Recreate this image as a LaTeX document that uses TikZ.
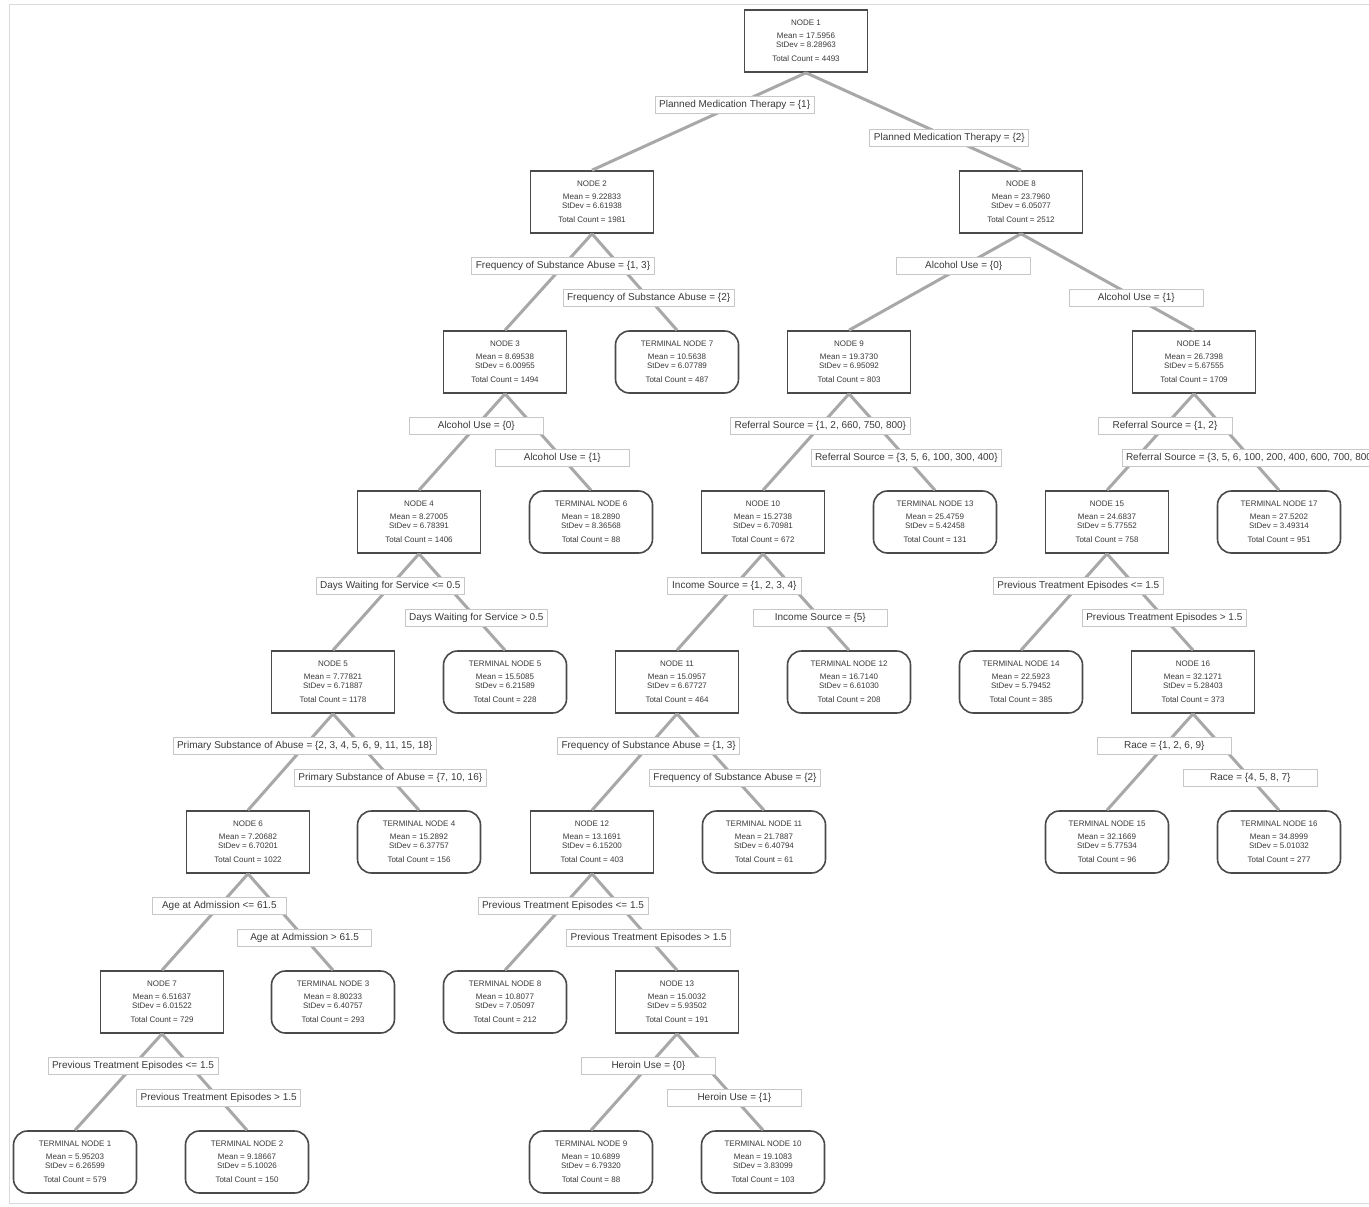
\documentclass[tikz,border=0pt]{standalone}
\usepackage{fontspec}
\setmainfont{Liberation Sans}
\definecolor{edgec}{HTML}{A8A8A8}
\definecolor{boxc}{HTML}{4A4A4A}
\definecolor{labc}{HTML}{C8C8C8}
\definecolor{txtc}{HTML}{3A3A3A}
\definecolor{framec}{HTML}{DADADA}
\newcommand\ndtxt[4]{#1\\[4pt]Mean = #2\\StDev = #3\\[5pt]Total Count = #4}
\begin{document}
\begin{tikzpicture}[x=1pt,y=-1pt,
  inode/.style={draw=boxc, line width=1.6pt, fill=white, minimum width=123pt, minimum height=62pt,
    align=center, inner sep=0pt, text=txtc, font=\fontsize{8}{9}\selectfont},
  tnode/.style={inode, rounded corners=14pt},
  lab/.style={draw=labc, line width=0.8pt, fill=white, minimum width=134pt, minimum height=17pt,
    inner xsep=4pt, inner ysep=2pt, text=txtc, font=\fontsize{10}{11}\selectfont},
  edge/.style={draw=edgec, line width=3pt}]
\path[use as bounding box, fill=white] (0,0) rectangle (1369,1207);
\draw[framec, line width=1pt] (9,5) rectangle (1380,1203);

% row 1
\node[inode] (n1) at (806,41) {\ndtxt{NODE 1}{17.5956}{8.28963}{4493}};
% row 2
\node[inode] (n2) at (592,202) {\ndtxt{NODE 2}{9.22833}{6.61938}{1981}};
\node[inode] (n8) at (1021,202) {\ndtxt{NODE 8}{23.7960}{6.05077}{2512}};
% row 3
\node[inode] (n3) at (505,362) {\ndtxt{NODE 3}{8.69538}{6.00955}{1494}};
\node[tnode] (t7) at (677,362) {\ndtxt{TERMINAL NODE 7}{10.5638}{6.07789}{487}};
\node[inode] (n9) at (849,362) {\ndtxt{NODE 9}{19.3730}{6.95092}{803}};
\node[inode] (n14) at (1194,362) {\ndtxt{NODE 14}{26.7398}{5.67555}{1709}};
% row 4
\node[inode] (n4) at (419,522) {\ndtxt{NODE 4}{8.27005}{6.78391}{1406}};
\node[tnode] (t6) at (591,522) {\ndtxt{TERMINAL NODE 6}{18.2890}{8.36568}{88}};
\node[inode] (n10) at (763,522) {\ndtxt{NODE 10}{15.2738}{6.70981}{672}};
\node[tnode] (t13) at (935,522) {\ndtxt{TERMINAL NODE 13}{25.4759}{5.42458}{131}};
\node[inode] (n15) at (1107,522) {\ndtxt{NODE 15}{24.6837}{5.77552}{758}};
\node[tnode] (t17) at (1279,522) {\ndtxt{TERMINAL NODE 17}{27.5202}{3.49314}{951}};
% row 5
\node[inode] (n5) at (333,682) {\ndtxt{NODE 5}{7.77821}{6.71887}{1178}};
\node[tnode] (t5) at (505,682) {\ndtxt{TERMINAL NODE 5}{15.5085}{6.21589}{228}};
\node[inode] (n11) at (677,682) {\ndtxt{NODE 11}{15.0957}{6.67727}{464}};
\node[tnode] (t12) at (849,682) {\ndtxt{TERMINAL NODE 12}{16.7140}{6.61030}{208}};
\node[tnode] (t14) at (1021,682) {\ndtxt{TERMINAL NODE 14}{22.5923}{5.79452}{385}};
\node[inode] (n16) at (1193,682) {\ndtxt{NODE 16}{32.1271}{5.28403}{373}};
% row 6
\node[inode] (n6) at (248,842) {\ndtxt{NODE 6}{7.20682}{6.70201}{1022}};
\node[tnode] (t4) at (419,842) {\ndtxt{TERMINAL NODE 4}{15.2892}{6.37757}{156}};
\node[inode] (n12) at (592,842) {\ndtxt{NODE 12}{13.1691}{6.15200}{403}};
\node[tnode] (t11) at (764,842) {\ndtxt{TERMINAL NODE 11}{21.7887}{6.40794}{61}};
\node[tnode] (t15) at (1107,842) {\ndtxt{TERMINAL NODE 15}{32.1669}{5.77534}{96}};
\node[tnode] (t16) at (1279,842) {\ndtxt{TERMINAL NODE 16}{34.8999}{5.01032}{277}};
% row 7
\node[inode] (n7) at (162,1002) {\ndtxt{NODE 7}{6.51637}{6.01522}{729}};
\node[tnode] (t3) at (333,1002) {\ndtxt{TERMINAL NODE 3}{8.80233}{6.40757}{293}};
\node[tnode] (t8) at (505,1002) {\ndtxt{TERMINAL NODE 8}{10.8077}{7.05097}{212}};
\node[inode] (n13) at (677,1002) {\ndtxt{NODE 13}{15.0032}{5.93502}{191}};
% row 8
\node[tnode] (t1) at (75,1162) {\ndtxt{TERMINAL NODE 1}{5.95203}{6.26599}{579}};
\node[tnode] (t2) at (247,1162) {\ndtxt{TERMINAL NODE 2}{9.18667}{5.10026}{150}};
\node[tnode] (t9) at (591,1162) {\ndtxt{TERMINAL NODE 9}{10.6899}{6.79320}{88}};
\node[tnode] (t10) at (763,1162) {\ndtxt{TERMINAL NODE 10}{19.1083}{3.83099}{103}};

% connectors
\foreach \a/\b in {n1/n2,n1/n8,n2/n3,n2/t7,n8/n9,n8/n14,n3/n4,n3/t6,n9/n10,n9/t13,
  n14/n15,n14/t17,n4/n5,n4/t5,n10/n11,n10/t12,n15/t14,n15/n16,n5/n6,n5/t4,n11/n12,n11/t11,
  n16/t15,n16/t16,n6/n7,n6/t3,n12/t8,n12/n13,n7/t1,n7/t2,n13/t9,n13/t10}
  \draw[edge] (\a.south) -- (\b.north);

% split labels
\path (n1.south) -- (n2.north) node[lab,pos=1/3] (l1a) {Planned Medication Therapy = \{1\}};
\path (n1.south) -- (n8.north) node[lab,pos=2/3] (l1b) {Planned Medication Therapy = \{2\}};
\path (n2.south) -- (n3.north) node[lab,pos=1/3] (l2a) {Frequency of Substance Abuse = \{1, 3\}};
\path (n2.south) -- (t7.north) node[lab,pos=2/3] (l2b) {Frequency of Substance Abuse = \{2\}};
\path (n8.south) -- (n9.north) node[lab,pos=1/3] (l8a) {Alcohol Use = \{0\}};
\path (n8.south) -- (n14.north) node[lab,pos=2/3] (l8b) {Alcohol Use = \{1\}};
\path (n3.south) -- (n4.north) node[lab,pos=1/3] (l3a) {Alcohol Use = \{0\}};
\path (n3.south) -- (t6.north) node[lab,pos=2/3] (l3b) {Alcohol Use = \{1\}};
\path (n9.south) -- (n10.north) node[lab,pos=1/3] (l9a) {Referral Source = \{1, 2, 660, 750, 800\}};
\path (n9.south) -- (t13.north) node[lab,pos=2/3] (l9b) {Referral Source = \{3, 5, 6, 100, 300, 400\}};
\path (n14.south) -- (n15.north) node[lab,pos=1/3] (l14a) {Referral Source = \{1, 2\}};
\path (n14.south) -- (t17.north) node[lab,pos=2/3] (l14b) {Referral Source = \{3, 5, 6, 100, 200, 400, 600, 700, 800\}};
\path (n4.south) -- (n5.north) node[lab,pos=1/3] (l4a) {Days Waiting for Service <= 0.5};
\path (n4.south) -- (t5.north) node[lab,pos=2/3] (l4b) {Days Waiting for Service > 0.5};
\path (n10.south) -- (n11.north) node[lab,pos=1/3] (l10a) {Income Source = \{1, 2, 3, 4\}};
\path (n10.south) -- (t12.north) node[lab,pos=2/3] (l10b) {Income Source = \{5\}};
\path (n15.south) -- (t14.north) node[lab,pos=1/3] (l15a) {Previous Treatment Episodes <= 1.5};
\path (n15.south) -- (n16.north) node[lab,pos=2/3] (l15b) {Previous Treatment Episodes > 1.5};
\path (n5.south) -- (n6.north) node[lab,pos=1/3] (l5a) {Primary Substance of Abuse = \{2, 3, 4, 5, 6, 9, 11, 15, 18\}};
\path (n5.south) -- (t4.north) node[lab,pos=2/3] (l5b) {Primary Substance of Abuse = \{7, 10, 16\}};
\path (n11.south) -- (n12.north) node[lab,pos=1/3] (l11a) {Frequency of Substance Abuse = \{1, 3\}};
\path (n11.south) -- (t11.north) node[lab,pos=2/3] (l11b) {Frequency of Substance Abuse = \{2\}};
\path (n16.south) -- (t15.north) node[lab,pos=1/3] (l16a) {Race = \{1, 2, 6, 9\}};
\path (n16.south) -- (t16.north) node[lab,pos=2/3] (l16b) {Race = \{4, 5, 8, 7\}};
\path (n6.south) -- (n7.north) node[lab,pos=1/3] (l6a) {Age at Admission <= 61.5};
\path (n6.south) -- (t3.north) node[lab,pos=2/3] (l6b) {Age at Admission > 61.5};
\path (n12.south) -- (t8.north) node[lab,pos=1/3] (l12a) {Previous Treatment Episodes <= 1.5};
\path (n12.south) -- (n13.north) node[lab,pos=2/3] (l12b) {Previous Treatment Episodes > 1.5};
\path (n7.south) -- (t1.north) node[lab,pos=1/3] (l7a) {Previous Treatment Episodes <= 1.5};
\path (n7.south) -- (t2.north) node[lab,pos=2/3] (l7b) {Previous Treatment Episodes > 1.5};
\path (n13.south) -- (t9.north) node[lab,pos=1/3] (l13a) {Heroin Use = \{0\}};
\path (n13.south) -- (t10.north) node[lab,pos=2/3] (l13b) {Heroin Use = \{1\}};
\end{tikzpicture}
\end{document}
